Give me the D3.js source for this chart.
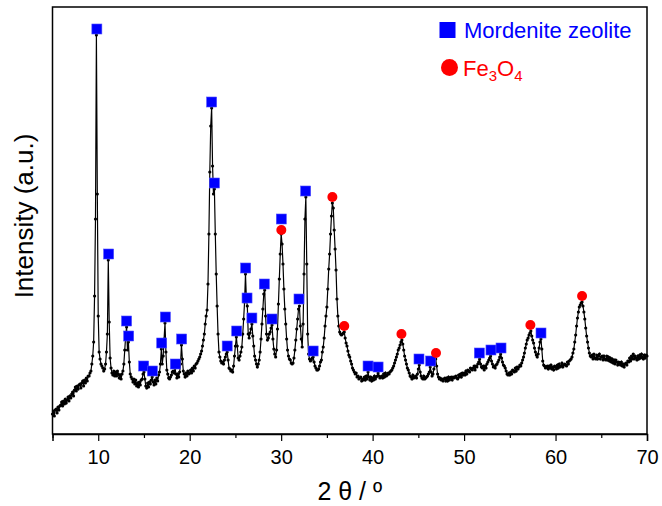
<!DOCTYPE html>
<html>
<head>
<meta charset="utf-8">
<script src="https://cdn.jsdelivr.net/npm/d3@7"></script>
<style>
  html, body { margin: 0; padding: 0; background: #ffffff; }
  svg { display: block; font-family: "Liberation Sans", Arial, sans-serif; }
</style>
</head>
<body>
<svg id="chart" width="662" height="506"></svg>
<script>
// ---------------- DATA ----------------
// XRD scan: 2θ from 5° to 70°, step 0.1°
const scanStart = 5;
const scanStep = 0.1;
// Intensity (a.u.), one value per step
const intensity = [
  20, 23, 18, 24, 25, 21, 27, 24, 28, 29,        // 5
  32, 28, 33, 30, 35, 31, 34, 37, 33, 38,        // 6
  36, 40, 42, 38, 44, 47, 43, 48, 45, 49,        // 7
  50, 46, 51, 53, 48, 54, 51, 56, 53, 58,        // 8
  58, 61, 63, 70, 78, 92, 138, 215, 399, 240,    // 9
  118, 82, 75, 70, 68, 66, 63, 65, 70, 82,       // 10
  100, 174, 112, 76, 66, 61, 59, 63, 58, 62,     // 11
  58, 63, 60, 56, 59, 55, 60, 63, 70, 84,        // 12
  98, 107, 84, 92, 72, 60, 57, 55, 52, 55,       // 13
  50, 54, 48, 51, 47, 52, 49, 54, 55, 60,        // 14
  62, 55, 48, 46, 51, 47, 52, 50, 54, 57,        // 15
  52, 49, 54, 50, 56, 53, 59, 62, 70, 85,        // 16
  70, 78, 95, 111, 82, 64, 60, 56, 55, 57,       // 17
  59, 62, 63, 61, 66, 60, 56, 60, 57, 62,        // 18
  70, 89, 75, 63, 60, 57, 61, 58, 63, 60,        // 19
  61, 64, 61, 66, 63, 68, 66, 70, 71, 73,        // 20
  75, 77, 80, 83, 88, 94, 100, 110, 118, 124,    // 21
  150, 200, 262, 308, 326, 268, 240, 245, 200, 160, // 22
  128, 100, 82, 77, 73, 71, 72, 70, 74, 77,      // 23
  80, 82, 74, 66, 65, 63, 64, 62, 68, 78,        // 24
  88, 97, 88, 76, 74, 78, 82, 87, 100, 115,      // 25
  132, 160, 135, 128, 100, 96, 101, 105, 110, 98, // 26
  88, 78, 74, 70, 67, 70, 74, 82, 95, 110,       // 27
  125, 140, 144, 118, 100, 94, 96, 100, 102, 106, // 28
  109, 95, 85, 80, 77, 84, 105, 130, 155, 180,   // 29
  200, 190, 170, 145, 125, 110, 95, 84, 78, 75,  // 30
  74, 71, 70, 71, 76, 84, 94, 105, 115, 125,     // 31
  128, 108, 95, 87, 110, 160, 215, 237, 170, 100, // 32
  80, 75, 73, 74, 76, 77, 72, 68, 66, 64,        // 33
  64, 65, 68, 72, 74, 82, 87, 96, 108, 118,      // 34
  127, 145, 165, 180, 200, 218, 231, 226, 204, 185, // 35
  164, 135, 118, 108, 102, 100, 99, 100, 101, 102, // 36
  96, 91, 88, 83, 79, 77, 73, 70, 66, 64,        // 37
  62, 60, 61, 57, 58, 55, 56, 57, 53, 55,        // 38
  54, 57, 54, 58, 55, 62, 57, 54, 57, 53,        // 39
  56, 54, 58, 55, 57, 58, 61, 58, 56, 57,        // 40
  58, 56, 60, 57, 61, 58, 59, 61, 60, 62,        // 41
  63, 64, 66, 68, 71, 74, 77, 80, 84, 86,        // 42
  89, 92, 94, 90, 84, 78, 74, 70, 66, 64,        // 43
  61, 58, 57, 55, 59, 56, 57, 58, 56, 60,        // 44
  65, 69, 62, 58, 56, 55, 58, 55, 56, 57,        // 45
  58, 60, 62, 67, 62, 58, 60, 65, 70, 75,        // 46
  68, 60, 57, 55, 56, 54, 55, 53, 55, 56,        // 47
  53, 56, 53, 57, 54, 56, 57, 54, 57, 56,        // 48
  57, 58, 56, 55, 59, 57, 60, 57, 61, 59,        // 49
  61, 59, 63, 60, 64, 63, 62, 66, 65, 64,        // 50
  66, 68, 64, 68, 67, 70, 72, 75, 70, 67,        // 51
  66, 68, 64, 68, 66, 70, 72, 74, 76, 78,        // 52
  73, 70, 67, 68, 66, 69, 70, 72, 74, 77,        // 53
  80, 76, 72, 69, 68, 66, 63, 60, 59, 61,        // 54
  59, 62, 60, 64, 63, 62, 66, 63, 67, 65,        // 55
  67, 69, 68, 71, 74, 77, 81, 86, 90, 94,        // 56
  96, 99, 101, 103, 98, 94, 91, 86, 82, 79,      // 57
  77, 80, 86, 92, 95, 85, 73, 69, 68, 66,        // 58
  67, 68, 65, 68, 66, 69, 65, 67, 64, 68,        // 59
  67, 65, 69, 66, 70, 67, 68, 71, 67, 69,        // 60
  70, 69, 68, 72, 70, 73, 74, 75, 77, 81,        // 61
  85, 92, 99, 108, 116, 122, 127, 129, 131, 132, // 62
  128, 122, 115, 106, 98, 92, 86, 81, 78, 77,    // 63
  79, 75, 80, 76, 75, 79, 75, 78, 80, 75,        // 64
  77, 78, 74, 78, 75, 74, 78, 74, 77, 73,        // 65
  76, 72, 75, 71, 74, 70, 74, 72, 69, 72,        // 66
  71, 69, 72, 68, 70, 67, 70, 71, 69, 73,        // 67
  72, 76, 73, 78, 75, 80, 75, 78, 76, 74,        // 68
  78, 75, 79, 76, 80, 77, 75, 79, 76, 79,        // 69
  78                                             // 70
];

// Peak markers
const mordeniteTheta = [9.85, 11.14, 13.1, 13.33, 14.97, 15.92, 16.94, 17.34, 18.43, 19.12,
  22.4, 22.7, 24.1, 25.14, 26.12, 26.27, 26.8, 28.16, 29.0, 30.02, 31.95, 32.68, 33.5,
  39.5, 40.6, 45.07, 46.35, 51.67, 52.94, 54.04, 58.41];
const mordeniteIntensity = [405, 180, 113, 98, 68, 63, 91, 117, 70, 95,
  332, 251, 88, 103, 166, 136, 116, 150, 115, 215, 135, 243, 83,
  68, 67, 75, 73, 81, 84, 86, 101];
const fe3o4Theta = [30.02, 35.6, 36.9, 43.15, 46.93, 57.25, 62.9];
const fe3o4Intensity = [204, 237, 108, 100, 81, 109, 138];

const xTicks = [10, 20, 30, 40, 50, 60, 70];
const xMinorTicks = [5, 15, 25, 35, 45, 55, 65];
const xDomain = [5, 70];
const yDomain = [0, 427];

const xLabel = "2 θ / º";
const yLabel = "Intensity (a.u.)";
const legendNames = ["Mordenite zeolite", "Fe3O4"];

// ---------------- DRAW ----------------
const W = 662, H = 506;
const margin = { left: 52.5, right: 15, top: 7, bottom: 72 };
const svg = d3.select("#chart");

const x = d3.scaleLinear().domain(xDomain).range([margin.left, W - margin.right]);
const y = d3.scaleLinear().domain(yDomain).range([H - margin.bottom, margin.top]);

const pattern = intensity.map((v, i) => ({ t: scanStart + i * scanStep, v }));

const plot = svg.append("g");

// line
plot.append("path")
  .datum(pattern)
  .attr("fill", "none")
  .attr("stroke", "#000")
  .attr("stroke-width", 1.2)
  .attr("d", d3.line().x(d => x(d.t)).y(d => y(d.v)));

// point symbols
plot.append("g").selectAll("circle")
  .data(pattern)
  .join("circle")
  .attr("cx", d => x(d.t))
  .attr("cy", d => y(d.v))
  .attr("r", 1.6)
  .attr("fill", "#000");

// mordenite markers
const sq = 10;
plot.append("g").selectAll("rect")
  .data(mordeniteTheta.map((t, i) => ({ t, v: mordeniteIntensity[i] })))
  .join("rect")
  .attr("x", d => x(d.t) - sq / 2)
  .attr("y", d => y(d.v) - sq / 2)
  .attr("width", sq)
  .attr("height", sq)
  .attr("fill", "#0000ff")
  .attr("stroke", "#4d4dff")
  .attr("stroke-width", 0.6);

// Fe3O4 markers
plot.append("g").selectAll("circle")
  .data(fe3o4Theta.map((t, i) => ({ t, v: fe3o4Intensity[i] })))
  .join("circle")
  .attr("cx", d => x(d.t))
  .attr("cy", d => y(d.v))
  .attr("r", 5)
  .attr("fill", "#ff0000");

// frame
svg.append("rect")
  .attr("x", margin.left)
  .attr("y", margin.top)
  .attr("width", W - margin.right - margin.left)
  .attr("height", H - margin.bottom - margin.top)
  .attr("fill", "none")
  .attr("stroke", "#000")
  .attr("stroke-width", 1.5);

// x axis
const xAxis = svg.append("g")
  .attr("transform", `translate(0,${H - margin.bottom})`)
  .call(d3.axisBottom(x).tickValues(xTicks).tickSize(7).tickPadding(9).tickFormat(d3.format("d")));
xAxis.select(".domain").attr("stroke-width", 1.5);
xAxis.selectAll(".tick line").attr("stroke-width", 1.2);
xAxis.selectAll("text")
  .attr("font-size", 20)
  .attr("font-family", "Liberation Sans, Arial, sans-serif")
  .attr("fill", "#000");

const xMinor = svg.append("g")
  .attr("transform", `translate(0,${H - margin.bottom})`)
  .call(d3.axisBottom(x).tickValues(xMinorTicks).tickSize(4).tickFormat(""));
xMinor.select(".domain").remove();
xMinor.selectAll(".tick line").attr("stroke-width", 1.2);

// axis titles
svg.append("text")
  .attr("x", (margin.left + W - margin.right) / 2)
  .attr("y", 500)
  .attr("text-anchor", "middle")
  .attr("font-size", 25)
  .attr("fill", "#000")
  .text(xLabel);

svg.append("text")
  .attr("transform", `translate(33,216) rotate(-90)`)
  .attr("text-anchor", "middle")
  .attr("font-size", 26)
  .attr("fill", "#000")
  .text(yLabel);

// legend
const lg = svg.append("g");
lg.append("rect")
  .attr("x", 439.5).attr("y", 22).attr("width", 16).attr("height", 16)
  .attr("fill", "#0000ff");
lg.append("text")
  .attr("x", 464).attr("y", 37.5)
  .attr("font-size", 22)
  .attr("fill", "#0000ff")
  .text(legendNames[0]);

lg.append("circle")
  .attr("cx", 449.5).attr("cy", 67.5).attr("r", 8.5)
  .attr("fill", "#ff0000");
const fe = lg.append("text")
  .attr("x", 463).attr("y", 75.5)
  .attr("font-size", 22)
  .attr("fill", "#ff0000");
fe.append("tspan").text("Fe");
fe.append("tspan").attr("font-size", 15).attr("dy", 5).text("3");
fe.append("tspan").attr("dy", -5).text("O");
fe.append("tspan").attr("font-size", 15).attr("dy", 5).text("4");
</script>
</body>
</html>
